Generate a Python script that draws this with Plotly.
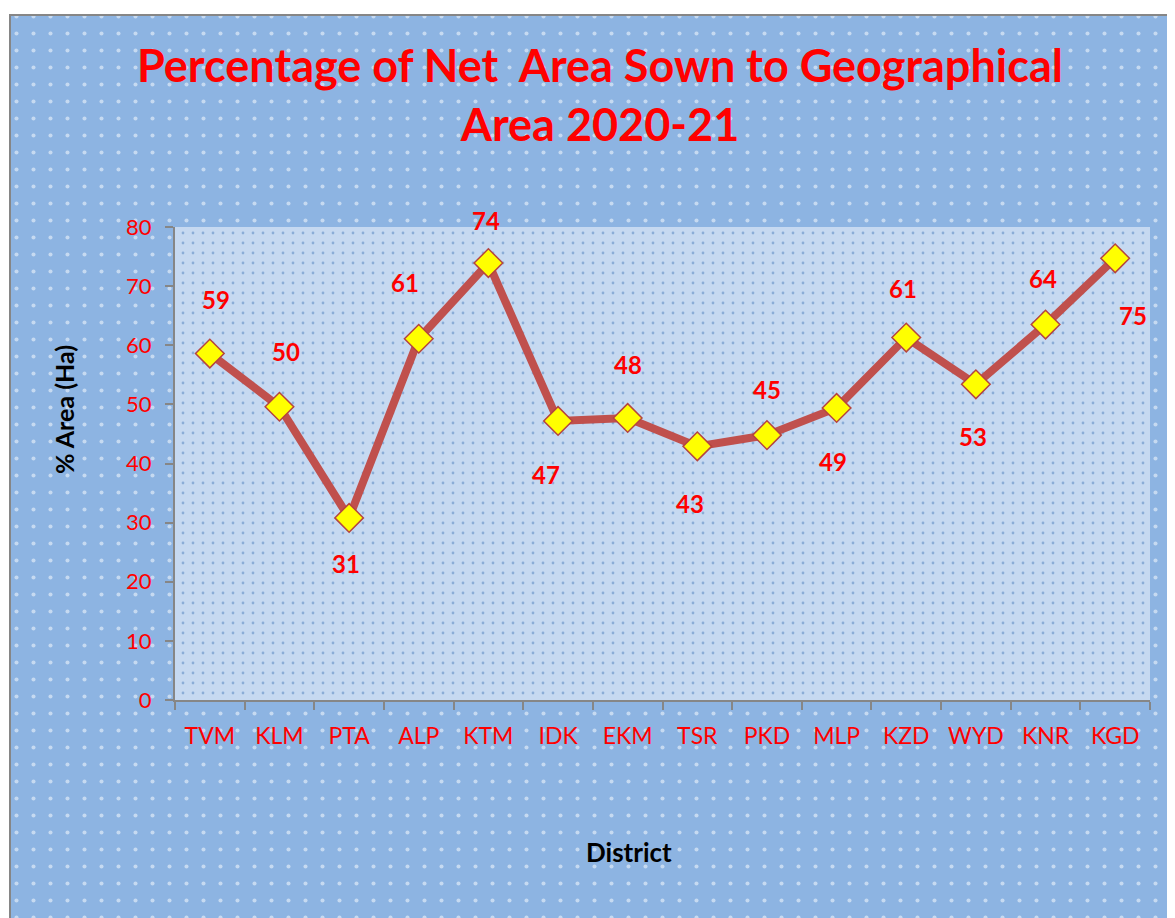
import plotly.graph_objects as go

districts = ["TVM", "KLM", "PTA", "ALP", "KTM", "IDK", "EKM", "TSR", "PKD", "MLP", "KZD", "WYD", "KNR", "KGD"]
pct_area = [58.6, 49.6, 30.8, 61.1, 73.9, 47.2, 47.7, 42.9, 44.8, 49.4, 61.3, 53.4, 63.5, 74.7]
labels = ["59", "50", "31", "61", "74", "47", "48", "43", "45", "49", "61", "53", "64", "75"]

W, H = 1175, 918
# page offset of the plot div (browser body margin)
OFF = 8

def px(x):
    return (x - OFF) / W

def py(y):
    return 1 - (y - OFF) / H

# plot-area pixel box (screen coordinates)
PL, PR, PT, PB = 175, 1150, 227, 700

FONT = "Lato, Open Sans, sans-serif"

fig = go.Figure()

# background decoration on a hidden full-page axis (xaxis/yaxis)
fig.add_trace(go.Scatter(
    x=[px(10), 1, 1, px(10), px(10)], y=[0, 0, py(15), py(15), 0],
    mode="lines", fill="toself", fillcolor="#8DB4E2",
    fillpattern=dict(shape=".", bgcolor="#8DB4E2", fgcolor="#FFFFFF", size=17, solidity=0.045),
    line=dict(color="#868686", width=2), hoverinfo="skip", showlegend=False,
    xaxis="x", yaxis="y"))
fig.add_trace(go.Scatter(
    x=[px(PL), px(PR), px(PR), px(PL), px(PL)], y=[py(PB), py(PB), py(PT), py(PT), py(PB)],
    mode="lines", fill="toself", fillcolor="#C6D9F1",
    fillpattern=dict(shape=".", bgcolor="#C6D9F1", fgcolor="#4F81BD", size=10, solidity=0.06),
    line=dict(color="rgba(0,0,0,0)", width=0), hoverinfo="skip", showlegend=False,
    xaxis="x", yaxis="y"))

# data
fig.add_trace(go.Scatter(
    x=districts, y=pct_area, mode="lines+markers",
    line=dict(color="#C0504D", width=8),
    marker=dict(symbol="diamond", size=22, color="#FFFF00", line=dict(color="#B5443F", width=1.5)),
    hoverinfo="x+y", showlegend=False, xaxis="x2", yaxis="y2"))

offsets = [(6, 54), (7, 55), (-3, -46), (-14, 56), (-2, 43), (-12, -54), (0, 53),
           (-7, -57), (0, 46), (-4, -54), (-3, 49), (-3, -52), (-3, 46), (18, -57)]
for d, v, t, (dx, dy) in zip(districts, pct_area, labels, offsets):
    fig.add_annotation(x=d, y=v, xref="x2", yref="y2", text=t, showarrow=False,
                       xshift=dx, yshift=dy,
                       font=dict(family=FONT, size=24, color="#FF0000", weight="bold"))

# axis titles
fig.add_annotation(x=px(629), y=py(852), xref="paper", yref="paper", text="District",
                   showarrow=False, xanchor="center", yanchor="middle",
                   font=dict(family=FONT, size=26, color="black", weight="bold"))
fig.add_annotation(x=px(64), y=py(410), xref="paper", yref="paper", text="% Area (Ha)",
                   showarrow=False, xanchor="center", yanchor="middle", textangle=-90,
                   font=dict(family=FONT, size=25, color="black", weight="bold"))

fig.update_layout(
    width=W, height=H, margin=dict(l=0, r=0, t=0, b=0, pad=0, autoexpand=False),
    paper_bgcolor="white", plot_bgcolor="rgba(0,0,0,0)",
    title=dict(text="Percentage of Net  Area Sown to Geographical<br>Area 2020-21",
               x=px(600), xanchor="center", y=py(82), yanchor="middle",
               font=dict(family=FONT, size=45, color="#FF0000", weight="bold")),
    xaxis=dict(domain=[0, 1], range=[0, 1], visible=False, fixedrange=True, automargin=False),
    yaxis=dict(domain=[0, 1], range=[0, 1], visible=False, fixedrange=True, automargin=False),
    xaxis2=dict(domain=[px(PL), px(PR)], anchor="y2", type="category", range=[-0.5, len(districts)-0.5],
                tickson="boundaries", automargin=False, ticklabelstandoff=14,
                ticks="outside", ticklen=8, tickcolor="#868686", tickwidth=2,
                showline=True, linecolor="#868686", linewidth=2, showgrid=False,
                tickfont=dict(family=FONT, size=23, color="#FF0000")),
    yaxis2=dict(domain=[py(PB), py(PT)], anchor="x2", range=[0, 80], dtick=10, automargin=False,
                ticklabelstandoff=9,
                ticks="outside", ticklen=8, tickcolor="#868686", tickwidth=2,
                showline=True, linecolor="#868686", linewidth=2, showgrid=False, zeroline=False,
                tickfont=dict(family=FONT, size=22, color="#FF0000")),
)

fig.write_html("out.html")
